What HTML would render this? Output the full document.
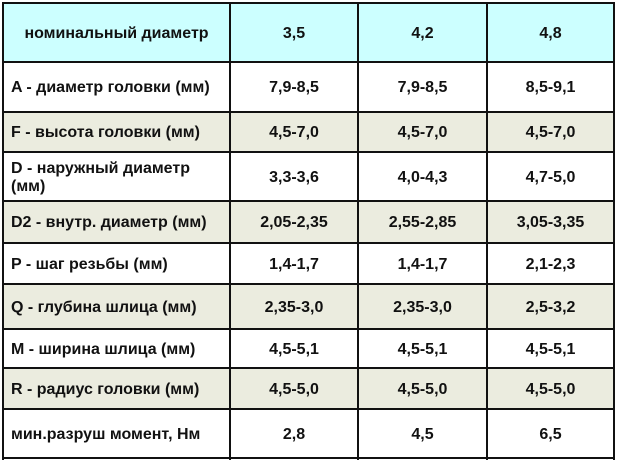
<!DOCTYPE html>
<html><head><meta charset="utf-8"><style>
html,body{margin:0;padding:0;background:#fff;}
#w{position:relative;width:618px;height:463px;overflow:hidden;font-family:"Liberation Sans",Arial,sans-serif;font-weight:bold;font-size:16px;color:#111;}
.bg{position:absolute;left:3px;width:611px;}
.h{position:absolute;background:#111;height:2px;left:2px;width:613px;}
.v{position:absolute;background:#111;width:2px;top:2px;height:458px;}
.c{position:absolute;display:flex;align-items:center;justify-content:center;text-align:center;line-height:18px;white-space:nowrap;padding-top:2px;box-sizing:border-box;}
.l{justify-content:flex-start;text-align:left;padding-left:8px;}
</style></head><body><div id="w">
<div class="bg" style="top:3px;height:59px;background:#ccffff"></div>
<div class="bg" style="top:112px;height:40px;background:#ebecdf"></div>
<div class="bg" style="top:201px;height:42px;background:#ebecdf"></div>
<div class="bg" style="top:284px;height:45px;background:#ebecdf"></div>
<div class="bg" style="top:368px;height:41px;background:#ebecdf"></div>

<div class="h" style="top:2px"></div>
<div class="h" style="top:61px"></div>
<div class="h" style="top:111px"></div>
<div class="h" style="top:151px"></div>
<div class="h" style="top:200px"></div>
<div class="h" style="top:242px"></div>
<div class="h" style="top:283px"></div>
<div class="h" style="top:328px"></div>
<div class="h" style="top:367px"></div>
<div class="h" style="top:408px"></div>
<div class="h" style="top:457px"></div>
<div class="v" style="left:2px"></div>
<div class="v" style="left:229px"></div>
<div class="v" style="left:357px"></div>
<div class="v" style="left:486px"></div>
<div class="v" style="left:613px"></div>

<div class="c" style="left:3px;width:227px;top:3px;height:59px">номинальный диаметр</div>
<div class="c" style="left:230px;width:128px;top:3px;height:59px">3,5</div>
<div class="c" style="left:358px;width:129px;top:3px;height:59px">4,2</div>
<div class="c" style="left:487px;width:127px;top:3px;height:59px">4,8</div>

<div class="c l" style="left:3px;width:227px;top:62px;height:50px">A - диаметр головки (мм)</div>
<div class="c" style="left:230px;width:128px;top:62px;height:50px">7,9-8,5</div>
<div class="c" style="left:358px;width:129px;top:62px;height:50px">7,9-8,5</div>
<div class="c" style="left:487px;width:127px;top:62px;height:50px">8,5-9,1</div>

<div class="c l" style="left:3px;width:227px;top:112px;height:40px">F - высота головки (мм)</div>
<div class="c" style="left:230px;width:128px;top:112px;height:40px">4,5-7,0</div>
<div class="c" style="left:358px;width:129px;top:112px;height:40px">4,5-7,0</div>
<div class="c" style="left:487px;width:127px;top:112px;height:40px">4,5-7,0</div>

<div class="c l" style="left:3px;width:227px;top:152px;height:49px">D - наружный диаметр<br>(мм)</div>
<div class="c" style="left:230px;width:128px;top:152px;height:49px">3,3-3,6</div>
<div class="c" style="left:358px;width:129px;top:152px;height:49px">4,0-4,3</div>
<div class="c" style="left:487px;width:127px;top:152px;height:49px">4,7-5,0</div>

<div class="c l" style="left:3px;width:227px;top:201px;height:42px">D2 - внутр. диаметр (мм)</div>
<div class="c" style="left:230px;width:128px;top:201px;height:42px">2,05-2,35</div>
<div class="c" style="left:358px;width:129px;top:201px;height:42px">2,55-2,85</div>
<div class="c" style="left:487px;width:127px;top:201px;height:42px">3,05-3,35</div>

<div class="c l" style="left:3px;width:227px;top:243px;height:41px">P - шаг резьбы (мм)</div>
<div class="c" style="left:230px;width:128px;top:243px;height:41px">1,4-1,7</div>
<div class="c" style="left:358px;width:129px;top:243px;height:41px">1,4-1,7</div>
<div class="c" style="left:487px;width:127px;top:243px;height:41px">2,1-2,3</div>

<div class="c l" style="left:3px;width:227px;top:284px;height:45px">Q - глубина шлица (мм)</div>
<div class="c" style="left:230px;width:128px;top:284px;height:45px">2,35-3,0</div>
<div class="c" style="left:358px;width:129px;top:284px;height:45px">2,35-3,0</div>
<div class="c" style="left:487px;width:127px;top:284px;height:45px">2,5-3,2</div>

<div class="c l" style="left:3px;width:227px;top:329px;height:39px">M - ширина шлица (мм)</div>
<div class="c" style="left:230px;width:128px;top:329px;height:39px">4,5-5,1</div>
<div class="c" style="left:358px;width:129px;top:329px;height:39px">4,5-5,1</div>
<div class="c" style="left:487px;width:127px;top:329px;height:39px">4,5-5,1</div>

<div class="c l" style="left:3px;width:227px;top:368px;height:41px">R - радиус головки (мм)</div>
<div class="c" style="left:230px;width:128px;top:368px;height:41px">4,5-5,0</div>
<div class="c" style="left:358px;width:129px;top:368px;height:41px">4,5-5,0</div>
<div class="c" style="left:487px;width:127px;top:368px;height:41px">4,5-5,0</div>

<div class="c l" style="left:3px;width:227px;top:409px;height:49px">мин.разруш момент, Нм</div>
<div class="c" style="left:230px;width:128px;top:409px;height:49px">2,8</div>
<div class="c" style="left:358px;width:129px;top:409px;height:49px">4,5</div>
<div class="c" style="left:487px;width:127px;top:409px;height:49px">6,5</div>
</div></body></html>
